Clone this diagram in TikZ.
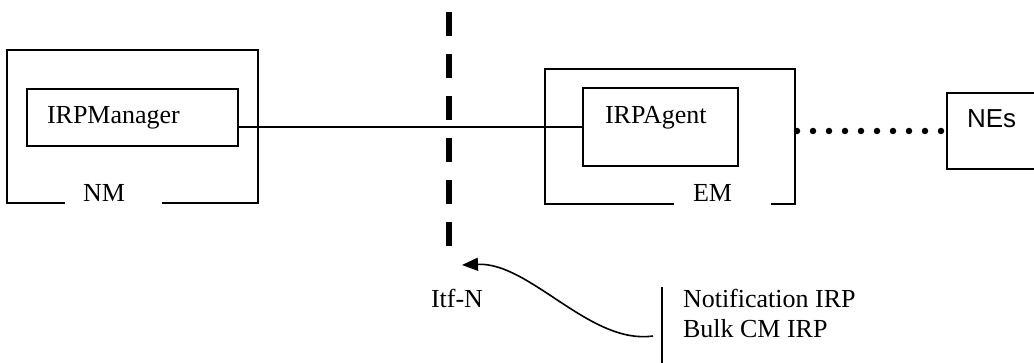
\documentclass[tikz,border=0pt]{standalone}
\usepackage{fontspec}
\setmainfont{Liberation Serif}
\newfontfamily\arialfont{Liberation Sans}
\usetikzlibrary{arrows.meta,calc}
\begin{document}
\begin{tikzpicture}[x=1pt,y=-1pt,
  every node/.style={inner sep=0pt,outer sep=0pt},
  box/.style={draw,line width=1.3pt,rectangle,anchor=north west},
  lbl/.style={anchor=base west,font=\fontsize{26}{30}\selectfont},
  thin/.style={line width=1.3pt}]
\useasboundingbox (0,0) rectangle (1034,362);
\clip (0,0) rectangle (1034,362);
\fill[white] (0,0) rectangle (1034,362);
% outer frames (named, outlines drawn with gaps)
\node[anchor=north west,minimum width=251pt,minimum height=153pt] (nm) at (7,50) {};
\node[anchor=north west,minimum width=250pt,minimum height=135pt] (em) at (545,69) {};
\draw[thin] (65,203) -| (nm.north west) -| (nm.south east) -- (162,203);
\draw[thin] (674,204) -| (em.north west) -| (em.south east) -- (771,204);
% inner boxes
\node[box,minimum width=211pt,minimum height=57pt] (mgr) at (27,89) {};
\node[box,minimum width=155pt,minimum height=78pt] (agent) at (583,88) {};
\node[box,minimum width=110pt,minimum height=76pt] (nes) at (947,93) {};
% labels
\node[lbl] (tmgr) at (47,123) {IRPManager};
\node[lbl] (tagent) at (605,123) {IRPAgent};
\node[lbl] (tnm) at (83,201) {NM};
\node[lbl] (tem) at (693,201) {EM};
\node[lbl,font=\arialfont\fontsize{26}{30}\selectfont] (tnes) at (967,127) {NEs};
\node[lbl] (titf) at (431,307) {Itf-N};
\node[lbl] (tnot) at (683,307) {Notification IRP};
\node[lbl] (tbulk) at (683,337) {Bulk CM IRP};
% interface dashed line
\coordinate (itop) at (449,12);
\coordinate (ibot) at (449,248);
\draw[line width=6pt,dash pattern=on 24pt off 18pt] (itop) -- (ibot);
% connectors
\draw[thin] (agent.west) -- (agent.west -| mgr.east);
\draw[line width=6.5pt,line cap=round,dash pattern=on 0pt off 16pt] ($(em.east |- nes.west)+(2,0)$) -- ($(nes.west)+(-6,0)$);
% bracket line and arrow
\coordinate (vtop) at (662,287);
\coordinate (vbot) at (662,365);
\draw[thin] (vtop) -- (vbot);
\coordinate (astart) at (653,336);
\coordinate (atip) at (462,265);
\draw[line width=1.6pt,-{Triangle[length=16pt,width=13pt]}] (astart) .. controls (590,345) and (530,262) .. (atip);
\end{tikzpicture}
\end{document}
